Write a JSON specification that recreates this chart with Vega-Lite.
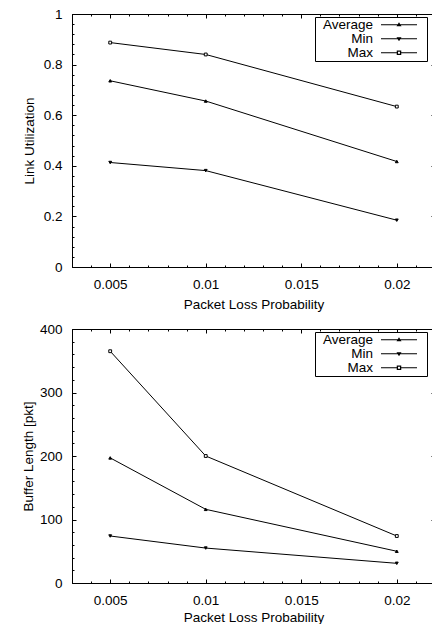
{
  "$schema": "https://vega.github.io/schema/vega-lite/v6.json",
  "padding": {"left": 21, "top": 7, "right": 0, "bottom": 0},
  "spacing": 11,
  "datasets": {
    "util": [
      {"p": 0.005, "series": "Average", "v": 0.736},
      {"p": 0.01, "series": "Average", "v": 0.656},
      {"p": 0.02, "series": "Average", "v": 0.417},
      {"p": 0.005, "series": "Min", "v": 0.413},
      {"p": 0.01, "series": "Min", "v": 0.381},
      {"p": 0.02, "series": "Min", "v": 0.185},
      {"p": 0.005, "series": "Max", "v": 0.887},
      {"p": 0.01, "series": "Max", "v": 0.840},
      {"p": 0.02, "series": "Max", "v": 0.634}
    ],
    "buf": [
      {"p": 0.005, "series": "Average", "v": 197},
      {"p": 0.01, "series": "Average", "v": 116},
      {"p": 0.02, "series": "Average", "v": 50},
      {"p": 0.005, "series": "Min", "v": 74},
      {"p": 0.01, "series": "Min", "v": 55},
      {"p": 0.02, "series": "Min", "v": 31},
      {"p": 0.005, "series": "Max", "v": 365},
      {"p": 0.01, "series": "Max", "v": 200},
      {"p": 0.02, "series": "Max", "v": 74}
    ]
  },
  "vconcat": [
    {
      "width": 363,
      "height": 253,
      "data": {"name": "util"},
      "layer": [
        {
          "mark": {"type": "line", "stroke": "black", "strokeWidth": 1},
          "encoding": {
            "x": {"field": "p", "type": "quantitative", "scale": {"domain": [0.003, 0.022], "nice": false, "zero": false},
              "axis": {"orient": "bottom", "values": [0.005, 0.01, 0.015, 0.02], "format": "~r", "tickSize": -4, "labelPadding": 14, "title": "Packet Loss Probability", "titlePadding": 7}},
            "y": {"field": "v", "type": "quantitative", "scale": {"domain": [0, 1], "nice": false},
              "axis": {"orient": "left", "values": [0, 0.2, 0.4, 0.6, 0.8, 1], "format": "~r", "tickSize": -4, "labelPadding": 14, "title": "Link Utilization", "titlePadding": 7}},
            "detail": {"field": "series"}
          }
        },
        {
          "mark": {"type": "point", "stroke": "black", "strokeWidth": 1, "opacity": 1, "filled": true},
          "encoding": {
            "x": {"field": "p", "type": "quantitative", "axis": {"orient": "top", "values": [0.005, 0.01, 0.015, 0.02], "labels": false, "tickSize": -4, "title": null}},
            "y": {"field": "v", "type": "quantitative", "axis": {"orient": "right", "values": [0, 0.2, 0.4, 0.6, 0.8, 1], "labels": false, "tickSize": -4, "title": null}},
            "shape": {"field": "series", "type": "nominal", "scale": {"domain": ["Average", "Min", "Max"], "range": ["triangle-up", "triangle-down", "square"]}, "legend": null},
            "fill": {"field": "series", "type": "nominal", "scale": {"domain": ["Average", "Min", "Max"], "range": ["black", "black", "white"]}, "legend": null},
            "size": {"field": "series", "type": "nominal", "scale": {"domain": ["Average", "Min", "Max"], "range": [8, 8, 14]}, "legend": null}
          }
        },
        {
          "transform": [{"filter": "false"}],
          "mark": {"type": "point", "filled": true, "fill": "black", "stroke": "black", "strokeWidth": 1},
          "encoding": {
            "x": {"field": "p", "type": "quantitative", "axis": {"orient": "bottom", "values": [0.003, 0.004, 0.005, 0.006, 0.007, 0.008, 0.009, 0.01, 0.011, 0.012, 0.013, 0.014, 0.015, 0.016, 0.017, 0.018, 0.019, 0.02, 0.021, 0.022], "labels": false, "domain": false, "tickSize": -2, "title": null}},
            "y": {"field": "v", "type": "quantitative", "axis": {"orient": "left", "values": [0, 0.04, 0.08, 0.12, 0.16, 0.2, 0.24, 0.28, 0.32, 0.36, 0.4, 0.44, 0.48, 0.52, 0.56, 0.6, 0.64, 0.68, 0.72, 0.76, 0.8, 0.84, 0.88, 0.92, 0.96, 1], "labels": false, "domain": false, "tickSize": -2, "title": null}},
            "shape": {"field": "series", "type": "nominal",
              "scale": {"domain": ["Average", "Min", "Max"], "range": [
                "M11.65,-0.1L18.85,-0.1L18.85,0.1L11.65,0.1ZM15.25,-0.5L15.75,0.3L14.75,0.3ZM20.6,0L20.6,0.01L20.61,0Z",
                "M11.65,-0.1L18.85,-0.1L18.85,0.1L11.65,0.1ZM15.25,0.5L14.75,-0.3L15.75,-0.3ZM20.6,0L20.6,0.01L20.61,0Z",
                "M11.65,-0.1L14.8,-0.1L14.8,0.1L11.65,0.1ZM15.7,-0.1L18.85,-0.1L18.85,0.1L15.7,0.1ZM14.8,-0.45L15.7,-0.45L15.7,0.45L14.8,0.45ZM15.05,-0.2L15.05,0.2L15.45,0.2L15.45,-0.2ZM20.6,0L20.6,0.01L20.61,0Z"
              ]},
              "legend": {"title": null, "orient": "none", "legendX": 243, "legendY": 3, "direction": "vertical", "padding": 1, "strokeColor": "black", "fillColor": "white", "labelAlign": "right", "labelOffset": 43.5, "symbolSize": 100, "symbolStrokeWidth": 0, "symbolFillColor": "black", "symbolOpacity": 1, "labelFont": "Liberation Sans", "labelFontSize": 13.5, "labelColor": "black", "rowPadding": -2.5}}
          }
        },
        {
          "transform": [{"filter": "false"}],
          "mark": {"type": "point"},
          "encoding": {
            "x": {"field": "p", "type": "quantitative", "axis": {"orient": "top", "values": [0.003, 0.004, 0.005, 0.006, 0.007, 0.008, 0.009, 0.01, 0.011, 0.012, 0.013, 0.014, 0.015, 0.016, 0.017, 0.018, 0.019, 0.02, 0.021, 0.022], "labels": false, "domain": false, "tickSize": -2, "title": null}},
            "y": {"field": "v", "type": "quantitative", "axis": {"orient": "right", "values": [0, 0.04, 0.08, 0.12, 0.16, 0.2, 0.24, 0.28, 0.32, 0.36, 0.4, 0.44, 0.48, 0.52, 0.56, 0.6, 0.64, 0.68, 0.72, 0.76, 0.8, 0.84, 0.88, 0.92, 0.96, 1], "labels": false, "domain": false, "tickSize": -2, "title": null}}
          }
        }
      ],
      "resolve": {"axis": {"x": "independent", "y": "independent"}, "scale": {"shape": "independent"}}
    },
    {
      "width": 363,
      "height": 254,
      "data": {"name": "buf"},
      "layer": [
        {
          "mark": {"type": "line", "stroke": "black", "strokeWidth": 1},
          "encoding": {
            "x": {"field": "p", "type": "quantitative", "scale": {"domain": [0.003, 0.022], "nice": false, "zero": false},
              "axis": {"orient": "bottom", "values": [0.005, 0.01, 0.015, 0.02], "format": "~r", "tickSize": -4, "labelPadding": 14, "title": "Packet Loss Probability", "titlePadding": 4}},
            "y": {"field": "v", "type": "quantitative", "scale": {"domain": [0, 400], "nice": false},
              "axis": {"orient": "left", "values": [0, 100, 200, 300, 400], "format": "~r", "tickSize": -4, "labelPadding": 14, "title": "Buffer Length [pkt]", "titlePadding": 3.5}},
            "detail": {"field": "series"}
          }
        },
        {
          "mark": {"type": "point", "stroke": "black", "strokeWidth": 1, "opacity": 1, "filled": true},
          "encoding": {
            "x": {"field": "p", "type": "quantitative", "axis": {"orient": "top", "values": [0.005, 0.01, 0.015, 0.02], "labels": false, "tickSize": -4, "title": null}},
            "y": {"field": "v", "type": "quantitative", "axis": {"orient": "right", "values": [0, 100, 200, 300, 400], "labels": false, "tickSize": -4, "title": null}},
            "shape": {"field": "series", "type": "nominal", "scale": {"domain": ["Average", "Min", "Max"], "range": ["triangle-up", "triangle-down", "square"]}, "legend": null},
            "fill": {"field": "series", "type": "nominal", "scale": {"domain": ["Average", "Min", "Max"], "range": ["black", "black", "white"]}, "legend": null},
            "size": {"field": "series", "type": "nominal", "scale": {"domain": ["Average", "Min", "Max"], "range": [8, 8, 14]}, "legend": null}
          }
        },
        {
          "transform": [{"filter": "false"}],
          "mark": {"type": "point", "filled": true, "fill": "black", "stroke": "black", "strokeWidth": 1},
          "encoding": {
            "x": {"field": "p", "type": "quantitative", "axis": {"orient": "bottom", "values": [0.003, 0.004, 0.005, 0.006, 0.007, 0.008, 0.009, 0.01, 0.011, 0.012, 0.013, 0.014, 0.015, 0.016, 0.017, 0.018, 0.019, 0.02, 0.021, 0.022], "labels": false, "domain": false, "tickSize": -2, "title": null}},
            "y": {"field": "v", "type": "quantitative", "axis": {"orient": "left", "values": [0, 20, 40, 60, 80, 100, 120, 140, 160, 180, 200, 220, 240, 260, 280, 300, 320, 340, 360, 380, 400], "labels": false, "domain": false, "tickSize": -2, "title": null}},
            "shape": {"field": "series", "type": "nominal",
              "scale": {"domain": ["Average", "Min", "Max"], "range": [
                "M11.65,-0.1L18.85,-0.1L18.85,0.1L11.65,0.1ZM15.25,-0.5L15.75,0.3L14.75,0.3ZM20.6,0L20.6,0.01L20.61,0Z",
                "M11.65,-0.1L18.85,-0.1L18.85,0.1L11.65,0.1ZM15.25,0.5L14.75,-0.3L15.75,-0.3ZM20.6,0L20.6,0.01L20.61,0Z",
                "M11.65,-0.1L14.8,-0.1L14.8,0.1L11.65,0.1ZM15.7,-0.1L18.85,-0.1L18.85,0.1L15.7,0.1ZM14.8,-0.45L15.7,-0.45L15.7,0.45L14.8,0.45ZM15.05,-0.2L15.05,0.2L15.45,0.2L15.45,-0.2ZM20.6,0L20.6,0.01L20.61,0Z"
              ]},
              "legend": {"title": null, "orient": "none", "legendX": 243, "legendY": 3, "direction": "vertical", "padding": 1, "strokeColor": "black", "fillColor": "white", "labelAlign": "right", "labelOffset": 43.5, "symbolSize": 100, "symbolStrokeWidth": 0, "symbolFillColor": "black", "symbolOpacity": 1, "labelFont": "Liberation Sans", "labelFontSize": 13.5, "labelColor": "black", "rowPadding": -2.5}}
          }
        },
        {
          "transform": [{"filter": "false"}],
          "mark": {"type": "point"},
          "encoding": {
            "x": {"field": "p", "type": "quantitative", "axis": {"orient": "top", "values": [0.003, 0.004, 0.005, 0.006, 0.007, 0.008, 0.009, 0.01, 0.011, 0.012, 0.013, 0.014, 0.015, 0.016, 0.017, 0.018, 0.019, 0.02, 0.021, 0.022], "labels": false, "domain": false, "tickSize": -2, "title": null}},
            "y": {"field": "v", "type": "quantitative", "axis": {"orient": "right", "values": [0, 20, 40, 60, 80, 100, 120, 140, 160, 180, 200, 220, 240, 260, 280, 300, 320, 340, 360, 380, 400], "labels": false, "domain": false, "tickSize": -2, "title": null}}
          }
        }
      ],
      "resolve": {"axis": {"x": "independent", "y": "independent"}, "scale": {"shape": "independent"}}
    }
  ],
  "resolve": {"scale": {"shape": "independent"}, "legend": {"shape": "independent"}},
  "config": {
    "font": "Liberation Sans",
    "view": {"stroke": null},
    "axis": {
      "domainColor": "black", "domainWidth": 1, "tickColor": "black", "tickWidth": 1,
      "labelColor": "black", "titleColor": "black",
      "labelFont": "Liberation Sans", "titleFont": "Liberation Sans",
      "labelFontSize": 13.5, "titleFontSize": 13.5, "titleFontWeight": "normal",
      "grid": false, "labelFlush": false, "labelOverlap": false
    }
  }
}
